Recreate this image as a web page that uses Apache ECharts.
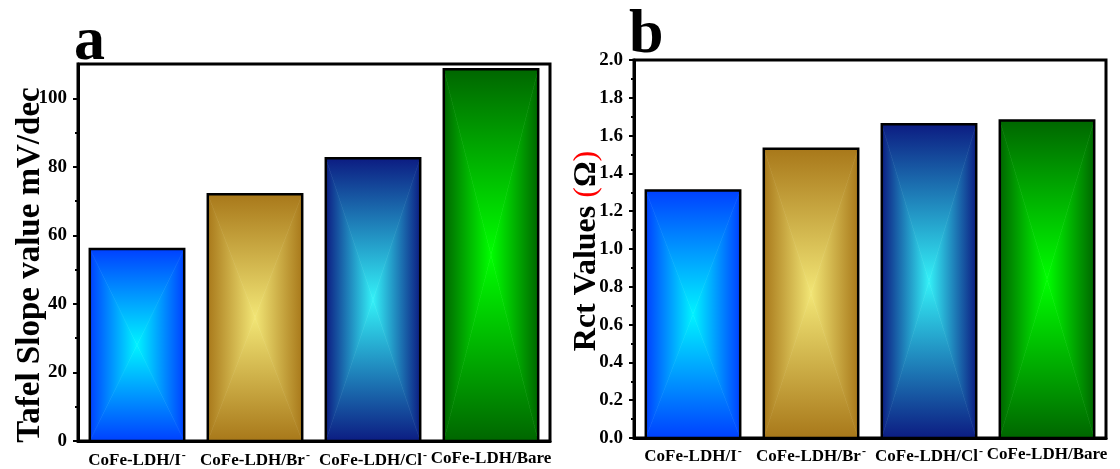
<!DOCTYPE html>
<html>
<head>
<meta charset="utf-8">
<script src="https://cdn.jsdelivr.net/npm/echarts@6/dist/echarts.min.js"></script>
<style>
  html, body { margin: 0; padding: 0; background: #fff; }
  #chart { width: 1120px; height: 469px; }
</style>
</head>
<body>
<div id="chart"></div>
<script>
// Sample names (trailing ⁻ is drawn as a superscript minus)
const categories = ['CoFe-LDH/I⁻', 'CoFe-LDH/Br⁻', 'CoFe-LDH/Cl⁻', 'CoFe-LDH/Bare'];
// Panel a: Tafel slopes (mV/dec)
const tafelSlope = [56, 72, 82.5, 108.5];
// Panel b: charge-transfer resistance (Ω)
const rctValues = [1.31, 1.53, 1.66, 1.68];
// Axis ticks
const tafelTicks = [0, 20, 40, 60, 80, 100];
const tafelMinorTicks = [10, 30, 50, 70, 90];
// Bar colours: outer edge and bright centre of each shape-burst fill
const edgeColors = ['#0040ff', '#a8781a', '#0c1c82', '#006600'];
const centerColors = ['#00f4ff', '#f2e676', '#34f2f8', '#00ff00'];

const FONT = "'Liberation Serif', 'Times New Roman', serif";
const BLACK = '#000';

// Draws one bar as four triangles, each fading from the edge colour to the centre colour
function burstBar(params, api) {
  const i = api.value(0);
  const top = api.coord([i, api.value(1)]);
  const base = api.coord([i, 0]);
  const bw = api.size([1, 0])[0] * 0.8;
  const x0 = top[0] - bw / 2, x1 = top[0] + bw / 2;
  const y0 = top[1], y1 = base[1];
  const cx = top[0], cy = (y0 + y1) / 2;
  const e = edgeColors[i], c = centerColors[i];
  const grad = (a, b, a2, b2) => new echarts.graphic.LinearGradient(a, b, a2, b2, [
    { offset: 0, color: e }, { offset: 1, color: c }
  ]);
  const tri = (pts, g) => ({ type: 'polygon', shape: { points: pts }, style: { fill: g, stroke: g, lineWidth: 0.6 } });
  return {
    type: 'group',
    children: [
      tri([[x0, y0], [x1, y0], [cx, cy]], grad(0, 0, 0, 1)),
      tri([[x0, y1], [x1, y1], [cx, cy]], grad(0, 1, 0, 0)),
      tri([[x0, y0], [x0, y1], [cx, cy]], grad(0, 0, 1, 0)),
      tri([[x1, y0], [x1, y1], [cx, cy]], grad(1, 0, 0, 0)),
      { type: 'rect', shape: { x: x0, y: y0, width: bw, height: y1 - y0 }, style: { fill: null, stroke: BLACK, lineWidth: 2.5 } }
    ]
  };
}

const catLabel = margin => ({
  margin,
  color: BLACK,
  interval: 0,
  formatter: v => v.endsWith('⁻') ? '{n|' + v.slice(0, -1) + '}{s|-}' : '{n|' + v + '}',
  rich: {
    n: { fontFamily: FONT, fontWeight: 'bold', fontSize: 17, color: BLACK },
    s: { fontFamily: FONT, fontWeight: 'bold', fontSize: 12, color: BLACK, padding: [0, 0, 9, 1] }
  }
});
const valLabel = { fontFamily: FONT, fontWeight: 'bold', fontSize: 19, color: BLACK, margin: 11 };
const axisLine = { show: true, lineStyle: { color: BLACK, width: 3 } };
const majorTick = { show: true, length: 5, lineStyle: { color: BLACK, width: 2 } };

const option = {
  animation: false,
  backgroundColor: '#fff',
  grid: [
    { left: 78, top: 64, width: 472, height: 378, show: true, borderColor: BLACK, borderWidth: 3 },
    { left: 634, top: 60, width: 472, height: 378, show: true, borderColor: BLACK, borderWidth: 3 }
  ],
  xAxis: [
    { type: 'category', gridIndex: 0, data: categories, axisLine, axisTick: { show: false }, axisLabel: catLabel(9) },
    { type: 'category', gridIndex: 1, data: categories, axisLine, axisTick: { show: false }, axisLabel: catLabel(8) }
  ],
  yAxis: [
    {
      type: 'value', gridIndex: 0, min: 0, max: 110, interval: 20, position: 'left',
      axisLine, splitLine: { show: false },
      axisTick: Object.assign({ customValues: tafelTicks }, majorTick),
      axisLabel: Object.assign({ customValues: tafelTicks }, valLabel)
    },
    {
      type: 'value', gridIndex: 0, min: 0, max: 110, position: 'left', offset: 0,
      axisLine: { show: false }, splitLine: { show: false }, axisLabel: { show: false },
      axisTick: { show: true, customValues: tafelMinorTicks, length: 3, lineStyle: { color: BLACK, width: 2 } }
    },
    {
      type: 'value', gridIndex: 1, min: 0, max: 2, interval: 0.2, position: 'left',
      axisLine, splitLine: { show: false }, axisTick: majorTick,
      minorTick: { show: true, splitNumber: 2, length: 3, lineStyle: { color: BLACK, width: 2 } },
      axisLabel: Object.assign({ formatter: v => v.toFixed(1) }, valLabel)
    }
  ],
  series: [
    {
      type: 'custom', xAxisIndex: 0, yAxisIndex: 0, renderItem: burstBar,
      encode: { x: 0, y: 1 }, data: tafelSlope.map((v, i) => [i, v])
    },
    {
      type: 'custom', xAxisIndex: 1, yAxisIndex: 2, renderItem: burstBar,
      encode: { x: 0, y: 1 }, data: rctValues.map((v, i) => [i, v])
    }
  ],
  graphic: [
    { type: 'text', x: 74, y: 43, style: { text: 'a', font: 'bold 62px ' + FONT, fill: BLACK, verticalAlign: 'middle' } },
    { type: 'text', x: 629, y: 36, style: { text: 'b', font: 'bold 62px ' + FONT, fill: BLACK, verticalAlign: 'middle' } },
    {
      type: 'text', x: 30, y: 265, rotation: Math.PI / 2,
      style: { text: 'Tafel Slope value mV/dec', font: 'bold 33px ' + FONT, fill: BLACK, align: 'center', verticalAlign: 'middle' }
    },
    {
      type: 'text', x: 587, y: 251, rotation: Math.PI / 2,
      style: {
        text: '{t|Rct Values }{p|(}{t|Ω}{p|)}', align: 'center', verticalAlign: 'middle',
        rich: {
          t: { fontFamily: FONT, fontWeight: 'bold', fontSize: 32, fill: BLACK },
          p: { fontFamily: FONT, fontWeight: 'normal', fontSize: 32, fill: '#ff0000' }
        }
      }
    }
  ]
};

const chart = echarts.init(document.getElementById('chart'), null, { renderer: 'canvas' });
chart.setOption(option);
</script>
</body>
</html>
